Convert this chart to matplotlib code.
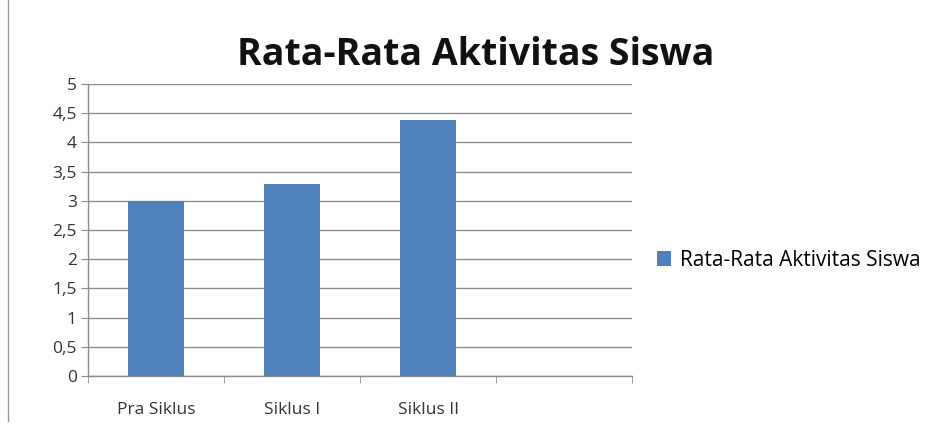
import matplotlib.pyplot as plt
from matplotlib.lines import Line2D
import numpy as np

categories = ["Pra Siklus", "Siklus I", "Siklus II", ""]
values = [3.0, 3.29, 4.38, np.nan]
yticks = [0, 0.5, 1, 1.5, 2, 2.5, 3, 3.5, 4, 4.5, 5]
ylabels = ["0", "0,5", "1", "1,5", "2", "2,5", "3", "3,5", "4", "4,5", "5"]
series_name = "Rata-Rata Aktivitas Siswa"

plt.rcParams['font.family'] = ['Open Sans', 'DejaVu Sans']

fig = plt.figure(figsize=(9.41, 4.34), dpi=100)
ax = fig.add_axes([0.0935, 0.1336, 0.5785, 0.6728])

x = np.arange(len(categories))
ax.bar(x, values, width=0.41, color="#4F81BD", label=series_name, zorder=3)

ax.set_xlim(-0.5, len(categories) - 0.5)
ax.set_ylim(0, 5)
ax.set_yticks(yticks)
ax.set_yticklabels(ylabels, fontsize=12.5, color="#333333")
ax.grid(axis="y", color="#8c8c8c", linewidth=1.0, zorder=0)

ax.set_xticks(x)
ax.set_xticklabels(categories, fontsize=12.5, color="#333333")
ax.set_xticks(np.arange(len(categories) + 1) - 0.5, minor=True)
ax.tick_params(axis="x", which="major", length=0, pad=19)
ax.tick_params(axis="x", which="minor", length=5, color="#8c8c8c", direction="out")
ax.tick_params(axis="y", length=5, color="#8c8c8c", direction="out", pad=3)

for side in ["top", "right"]:
    ax.spines[side].set_visible(False)
for side in ["left", "bottom"]:
    ax.spines[side].set_color("#8c8c8c")
    ax.spines[side].set_linewidth(1.0)

fig.text(0.505, 0.873, series_name, fontsize=27, fontweight="bold",
         ha="center", va="center", color="#111111")

fig.legend(loc="center left", bbox_to_anchor=(0.678, 0.40), frameon=False,
           fontsize=15, handlelength=0.7, handleheight=0.7, handletextpad=0.4)

# left border line of the original screenshot
fig.add_artist(Line2D([0.009, 0.009], [0.03, 1.0], color="#999999", linewidth=1.0))

fig.savefig("out.png", dpi=100, facecolor="white")
